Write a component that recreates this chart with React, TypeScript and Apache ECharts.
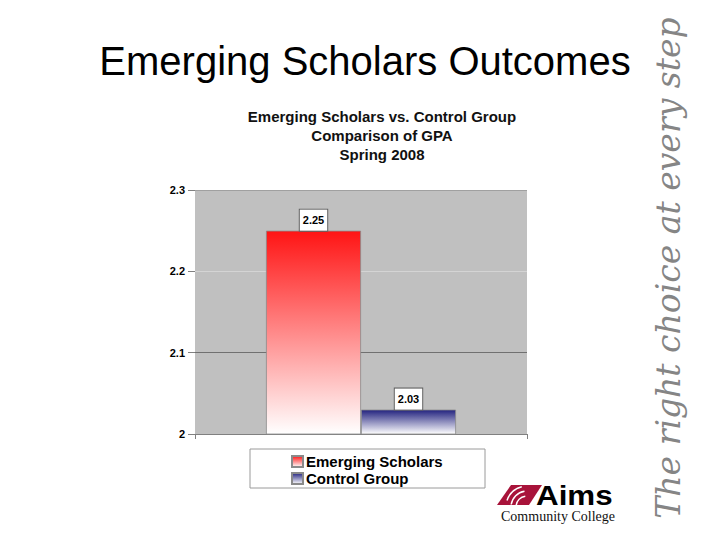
import React, { useEffect, useRef } from "react";
import * as echarts from "echarts";

const categories = ["Spring 2008"];
const seriesNames = ["Emerging Scholars", "Control Group"];
const gpaValues = [2.25, 2.03];
const yMin = 2;
const yMax = 2.3;
const yInterval = 0.1;

const topColors = ["#ff1414", "#23237f"];

export default function App() {
  const ref = useRef<HTMLDivElement>(null);
  useEffect(() => {
    document.body.style.margin = "0";
    const chart = echarts.init(ref.current!, null, { renderer: "svg" });
    const grad = (c: string) =>
      new echarts.graphic.LinearGradient(0, 0, 0, 1, [
        { offset: 0, color: c },
        { offset: 1, color: "#ffffff" },
      ]);
    chart.setOption({
      animation: false,
      backgroundColor: "#ffffff",
      title: [
        {
          text: "Emerging Scholars Outcomes",
          left: 360,
          textAlign: "center",
          top: 36,
          textStyle: { fontFamily: "Liberation Sans, Arial", fontSize: 40, fontWeight: "normal", color: "#000" },
        },
        {
          text: "Emerging Scholars vs. Control Group\nComparison of GPA\nSpring 2008",
          left: 377,
          textAlign: "center",
          top: 102,
          textStyle: { fontFamily: "Liberation Sans, Arial", fontSize: 15, fontWeight: "bold", color: "#111", lineHeight: 19 },
        },
      ],
      grid: { left: 195, right: 193, top: 190, bottom: 106, show: true, backgroundColor: "#c0c0c0", borderWidth: 0 },
      legend: {
        orient: "vertical",
        left: 286,
        top: 449,
        itemGap: 2,
        itemWidth: 11,
        itemHeight: 11,
        icon: "rect",
        textStyle: { fontFamily: "Liberation Sans, Arial", fontSize: 15, fontWeight: "bold", color: "#000", padding: [0, 0, 0, -2] },
        data: seriesNames,
      },
      xAxis: {
        type: "category",
        data: categories,
        axisLabel: { show: false },
        axisLine: { show: true, lineStyle: { color: "#808080" } },
        axisTick: { show: true, length: 5, lineStyle: { color: "#808080" } },
      },
      yAxis: {
        type: "value",
        min: yMin,
        max: yMax,
        interval: yInterval,
        axisLine: { show: false },
        axisTick: { show: true, length: 7, lineStyle: { color: "#808080" } },
        axisLabel: {
          margin: 10,
          fontFamily: "Liberation Sans, Arial",
          fontSize: 11,
          fontWeight: "bold",
          color: "#000",
          formatter: (v: number) => String(+v.toFixed(1)),
        },
        splitLine: { show: true, lineStyle: { color: ["#808080", "#707070", "#d4d4d4", "#a0a0a0"], width: 1 } },
      },
      series: seriesNames.map((name, i) => ({
        name,
        type: "bar",
        data: [gpaValues[i]],
        barWidth: 95,
        barGap: "0%",
        itemStyle: { color: grad(topColors[i]), borderColor: "#8a8a8a", borderWidth: 0.8 },
        label: {
          show: true,
          position: "top",
          distance: 0,
          formatter: (p: any) => p.value.toFixed(2),
          fontFamily: "Liberation Sans, Arial",
          fontSize: 11,
          fontWeight: "bold",
          color: "#000",
          backgroundColor: "#ffffff",
          borderColor: "#606060",
          borderWidth: 1,
          padding: [5, 3, 5, 3],
        },
      })),
      graphic: [
        {
          type: "rect",
          z: -1,
          shape: { x: 250, y: 449, width: 235, height: 39 },
          style: { fill: "#ffffff", stroke: "#9a9a9a", lineWidth: 1 },
        },
        {
          type: "text",
          x: 668,
          y: 268,
          rotation: Math.PI / 2,
          style: {
            text: "The right choice at every step",
            fontFamily: "DejaVu Serif",
            fontStyle: "italic",
            fontSize: 33,
            fill: "#858585",
            align: "center",
            verticalAlign: "middle",
          },
        },
        {
          type: "polygon",
          shape: { points: [[497, 505], [511, 485], [542, 485], [529, 505]] },
          style: { fill: "#a8133a" },
        },
        {
          type: "arc",
          shape: { cx: 527, cy: 507, r: 11, startAngle: Math.PI * 1.05, endAngle: Math.PI * 1.45 },
          style: { stroke: "#ffffff", lineWidth: 1.5, fill: "none" },
        },
        {
          type: "arc",
          shape: { cx: 527, cy: 507, r: 16, startAngle: Math.PI * 1.05, endAngle: Math.PI * 1.45 },
          style: { stroke: "#ffffff", lineWidth: 1.5, fill: "none" },
        },
        {
          type: "arc",
          shape: { cx: 527, cy: 507, r: 21, startAngle: Math.PI * 1.1, endAngle: Math.PI * 1.42 },
          style: { stroke: "#ffffff", lineWidth: 1.5, fill: "none" },
        },
        {
          type: "text",
          x: 536,
          y: 495,
          scaleX: 1.12,
          style: {
            text: "Aims",
            fontFamily: "Liberation Sans, Arial",
            fontWeight: "bold",
            fontSize: 28,
            fill: "#000",
            verticalAlign: "middle",
          },
        },
        {
          type: "text",
          x: 558,
          y: 516,
          style: {
            text: "Community College",
            fontFamily: "Liberation Serif, Times New Roman",
            fontSize: 14,
            fill: "#111",
            align: "center",
            verticalAlign: "middle",
          },
        },
      ],
    });
    return () => chart.dispose();
  }, []);
  return <div ref={ref} style={{ position: "fixed", left: 0, top: 0, width: 720, height: 540 }} />;
}
